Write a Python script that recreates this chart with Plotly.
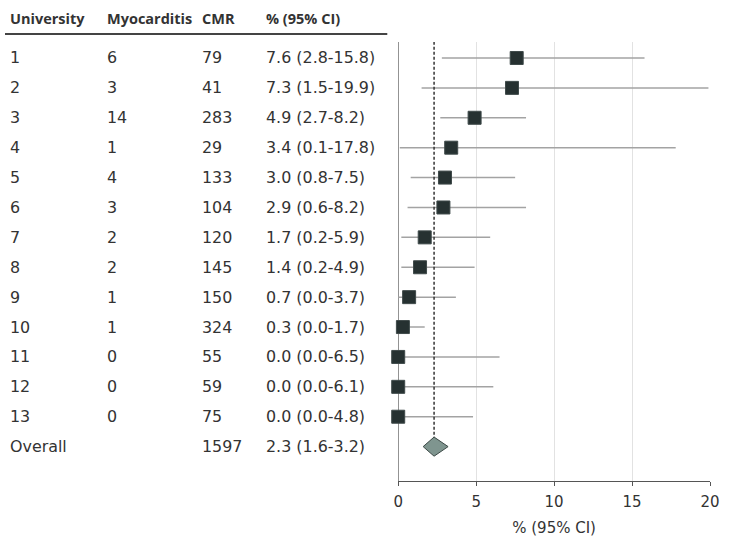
import plotly.graph_objects as go

universities = ["1", "2", "3", "4", "5", "6", "7", "8", "9", "10", "11", "12", "13"]
myocarditis = [6, 3, 14, 1, 4, 3, 2, 2, 1, 1, 0, 0, 0]
cmr = [79, 41, 283, 29, 133, 104, 120, 145, 150, 324, 55, 59, 75]
pct = [7.6, 7.3, 4.9, 3.4, 3.0, 2.9, 1.7, 1.4, 0.7, 0.3, 0.0, 0.0, 0.0]
ci_low = [2.8, 1.5, 2.7, 0.1, 0.8, 0.6, 0.2, 0.2, 0.0, 0.0, 0.0, 0.0, 0.0]
ci_high = [15.8, 19.9, 8.2, 17.8, 7.5, 8.2, 5.9, 4.9, 3.7, 1.7, 6.5, 6.1, 4.8]
overall_label = "Overall"
overall_cmr = 1597
overall_pct = 2.3
overall_low = 1.6
overall_high = 3.2
x_ticks = [0, 5, 10, 15, 20]
headers = ["University", "Myocarditis", "CMR", "% (95% CI)"]

FONT = "DejaVu Sans"
HEAD_FONT = "Open Sans"
FS = 15.9
FS_HEAD = 14.5
FS_AX = 15
TXT = "#333333"
W, H = 733, 539
n = len(universities)
rows = list(range(1, n + 1))
overall_row = n + 1

ml, mr, mt, mb = 0, 23, 42, 58
pw = W - ml - mr
ph = H - mt - mb

fig = go.Figure()

# CI lines
fig.add_trace(go.Scatter(
    x=pct, y=rows, mode="markers",
    marker=dict(symbol="square", size=1, color="rgba(0,0,0,0)"),
    error_x=dict(type="data", symmetric=False,
                 array=[h - p for h, p in zip(ci_high, pct)],
                 arrayminus=[p - l for l, p in zip(ci_low, pct)],
                 color="#a3a3a3", thickness=1.5, width=0),
    hoverinfo="skip", showlegend=False, cliponaxis=False))

# reference dashed line at overall estimate
fig.add_trace(go.Scatter(
    x=[overall_pct, overall_pct], y=[0.46, overall_row - 0.3], mode="lines",
    line=dict(color="#333333", width=1.5, dash="3px,2px"),
    hoverinfo="skip", showlegend=False))

# diamond
dh = 0.32
fig.add_trace(go.Scatter(
    x=[overall_low, overall_pct, overall_high, overall_pct, overall_low],
    y=[overall_row, overall_row - dh, overall_row, overall_row + dh, overall_row],
    mode="lines", fill="toself", fillcolor="#7f958f",
    line=dict(color="#3d4a47", width=1),
    hoverinfo="skip", showlegend=False))

# squares on top
fig.add_trace(go.Scatter(
    x=pct, y=rows, mode="markers",
    marker=dict(symbol="square", size=13, color="#263131",
                line=dict(width=1, color="#3f4a4a")),
    hoverinfo="skip", showlegend=False, cliponaxis=False))

col_x = [3, 101, 196, 261]
ann = []


def add_text(xpx, y, yref, text, size, family, weight="normal"):
    ann.append(dict(x=(xpx - ml) / pw, xref="paper", y=y, yref=yref, text=text,
                    showarrow=False, xanchor="left", yanchor="middle",
                    font=dict(family=family, size=size, color=TXT, weight=weight)))


for i, hname in enumerate(headers):
    add_text(col_x[i], (H - mb - 19) / ph, "paper", hname, FS_HEAD, HEAD_FONT, weight="bold")
for i in range(n):
    vals = [universities[i], str(myocarditis[i]), str(cmr[i]),
            f"{pct[i]:.1f} ({ci_low[i]:.1f}-{ci_high[i]:.1f})"]
    for j, v in enumerate(vals):
        add_text(col_x[j], rows[i], "y", v, FS, FONT)
ovals = [overall_label, "", str(overall_cmr),
         f"{overall_pct:.1f} ({overall_low:.1f}-{overall_high:.1f})"]
for j, v in enumerate(ovals):
    if v:
        add_text(col_x[j], overall_row, "y", v, FS, FONT)

shapes = [dict(type="line", xref="paper", yref="paper",
               x0=0, x1=385 / pw, y0=(H - mb - 34) / ph, y1=(H - mb - 34) / ph,
               line=dict(color="#444444", width=2))]

fig.update_layout(
    width=W, height=H,
    margin=dict(l=ml, r=mr, t=mt, b=mb),
    paper_bgcolor="white", plot_bgcolor="white",
    font=dict(family=FONT, size=FS, color=TXT),
    annotations=ann, shapes=shapes,
    xaxis=dict(domain=[396 / pw, 1], range=[0, 20], tickvals=x_ticks,
               showgrid=True, gridcolor="#e2e2e2", gridwidth=1,
               zeroline=False, showline=True, linecolor="#555555", linewidth=1.2,
               ticks="outside", ticklen=4, tickcolor="#555555", ticklabelstandoff=3,
               tickfont=dict(family=FONT, size=FS_AX, color=TXT),
               title=dict(text="% (95% CI)", font=dict(family=FONT, size=FS_AX, color=TXT), standoff=12)),
    yaxis=dict(range=[15.15, 0.465], showgrid=False, zeroline=False,
               showticklabels=False, showline=False),
)
fig.add_shape(type="line", xref="x", yref="paper", x0=0, x1=0, y0=0, y1=1,
              line=dict(color="#555555", width=1.2), layer="below")

fig.write_html("out.html")
